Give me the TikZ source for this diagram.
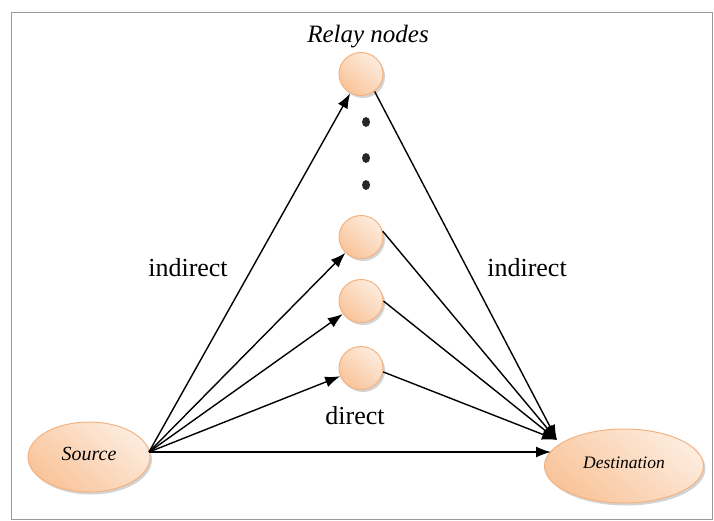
\documentclass[tikz,border=0pt]{standalone}
\usepackage{fontspec}
\setmainfont{Liberation Serif}
\usetikzlibrary{arrows.meta,shapes.geometric,shadows}

\definecolor{peach}{RGB}{249,196,154}
\definecolor{peachhi}{RGB}{253,236,222}
\definecolor{peachline}{RGB}{244,178,128}

\begin{document}
\begin{tikzpicture}[x=1pt, y=-1pt,
					>={Latex[length=15pt,width=11pt]},
					blob/.style = {ellipse, draw=peachline, line width=1pt,
						left color=peachhi, right color=peach, shading angle=-40,
						drop shadow={shadow xshift=2pt, shadow yshift=-2.5pt, opacity=0.35},
						inner sep=0pt},
					relay/.style = {blob, minimum width=44, minimum height=43},
					bead/.style = {ellipse, fill=black!85, minimum width=8, minimum height=10, inner sep=0pt},
					link/.style = {->, line width=1.4pt},
					tag/.style = {font=\fontsize{26}{30}\selectfont, inner sep=0pt}
				]

				\useasboundingbox (0,0) rectangle (714,520);
				\draw[black!40, line width=1pt] (11.5,12.5) rectangle (712.5,519.5);

				% end points
				\node[blob, minimum width=122, minimum height=70,
					font=\fontsize{20}{24}\selectfont\itshape] (src) at (89,457) {\raisebox{7pt}{Source}};
				\node[blob, minimum width=159, minimum height=74,
					font=\fontsize{17.5}{21}\selectfont\itshape] (dst) at (624,466) {\raisebox{7pt}{Destination}};

				% relays
				\node[relay] (r1) at (361,74) {};
				\node[relay] (r2) at (361,237) {};
				\node[relay] (r3) at (361,301) {};
				\node[relay] (r4) at (361,368) {};
				\foreach \y [count=\i] in {122,158,185}
					\node[bead] (dot\i) at (366,\y) {};

				\node[inner sep=0pt, font=\fontsize{25}{30}\selectfont\itshape] (title) at (368,37) {Relay nodes};

				\coordinate (hub) at (149,452);
				\coordinate (sink) at (557,440);
				\coordinate (hit) at (551,452);

				\foreach \r in {r1,r2,r3,r4}
					\draw[link] (hub) -- (\r);
				\draw[link] (hub) -- (hit);
				\draw[link] (r1.-52) -- (sink);
				\draw[link] (r2.15) -- (sink);
				\draw[link] (r3.east) -- (sink);
				\draw[link] (r4.-10) -- (sink);

				\node[tag] (lind) at (188,268) {indirect};
				\node[tag] (rind) at (527,268) {indirect};
				\node[tag] (dir) at (355,416) {direct};
			\end{tikzpicture}
\end{document}
